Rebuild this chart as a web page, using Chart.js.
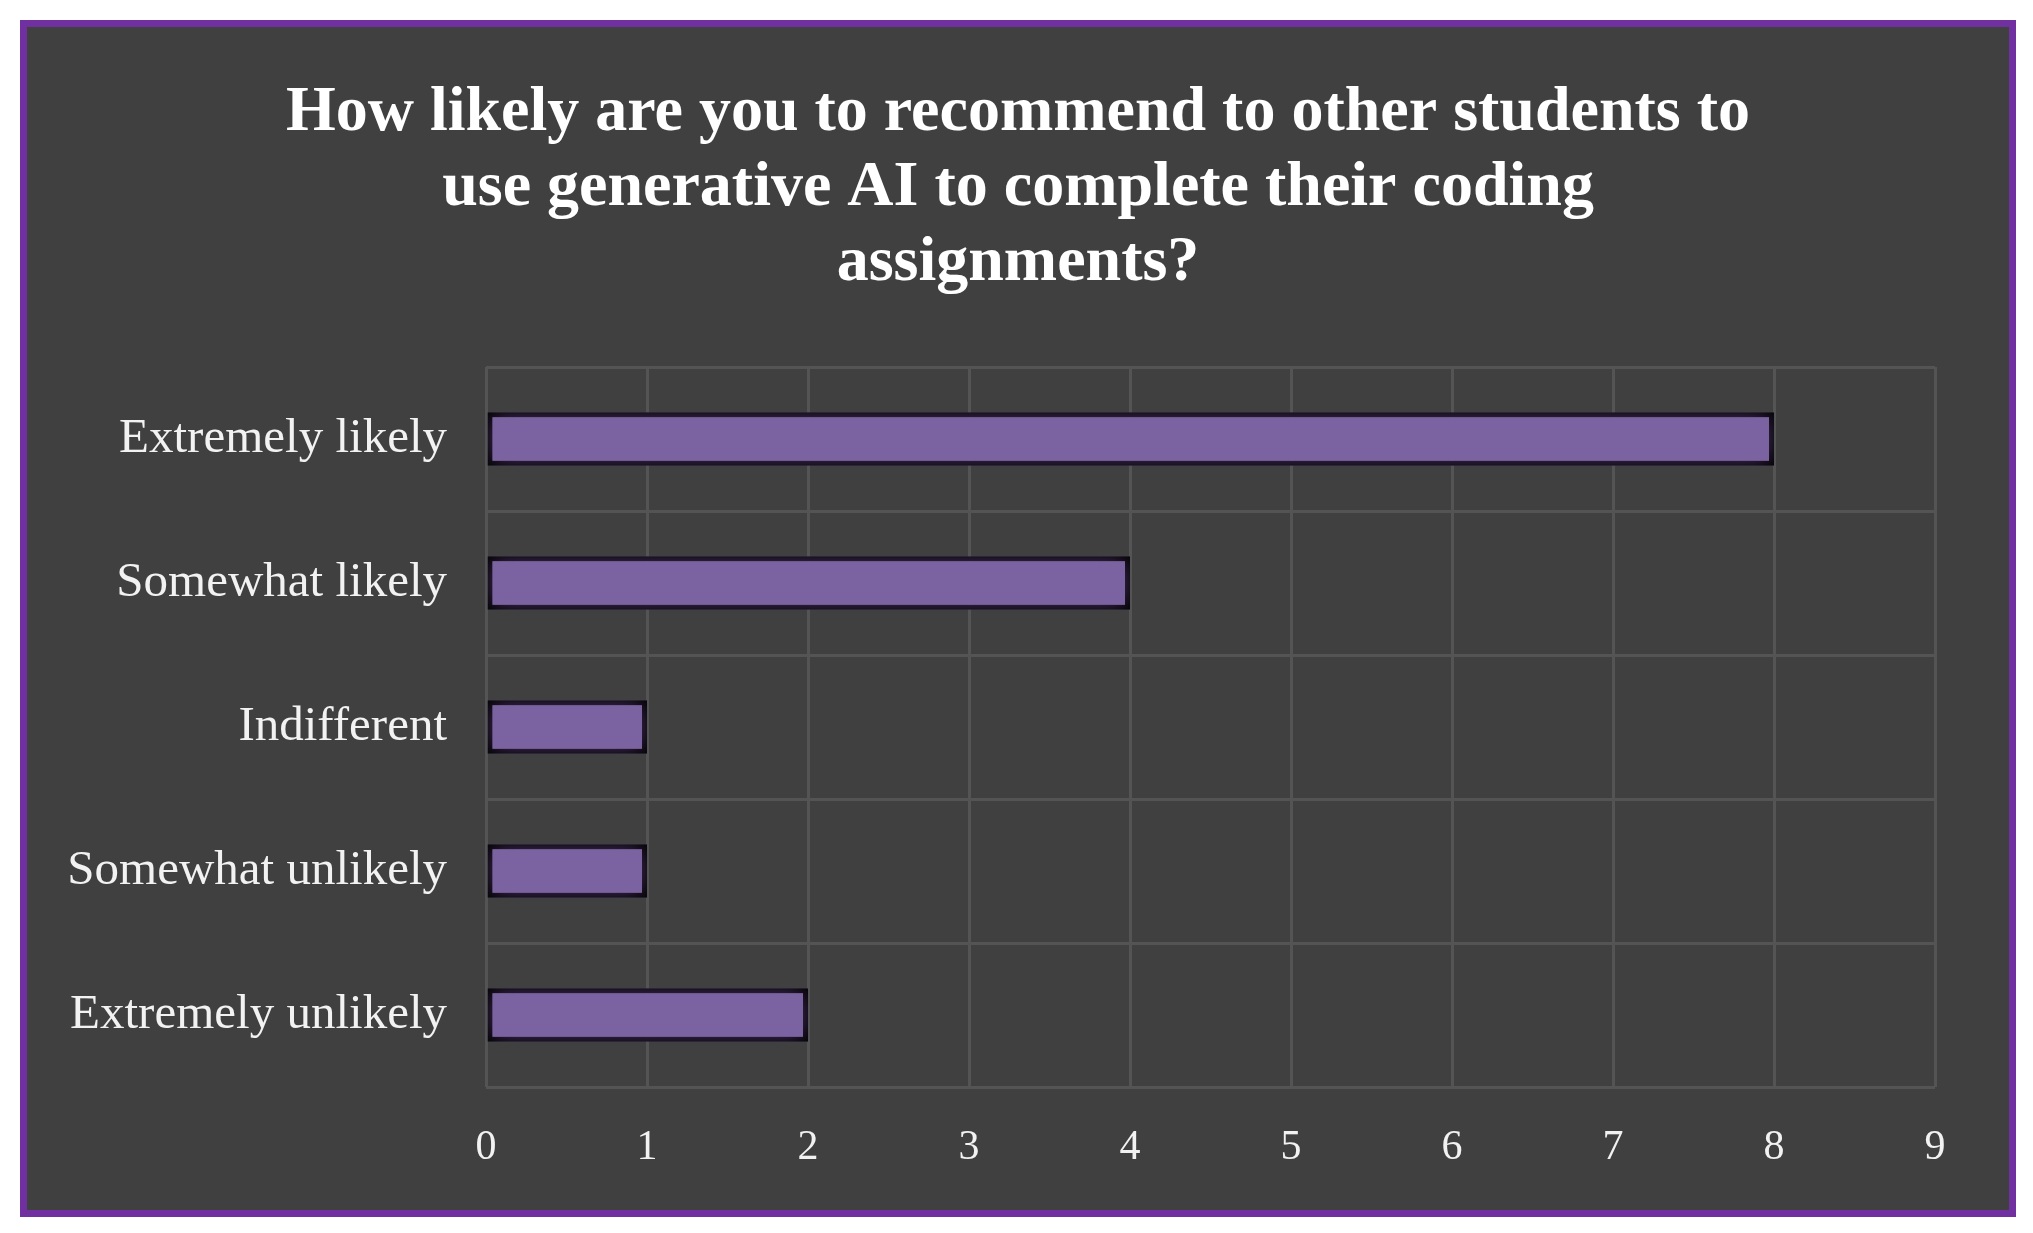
<!DOCTYPE html>
<html><head><meta charset="utf-8">
<script src="https://cdn.jsdelivr.net/npm/chart.js@4"></script>
<style>html,body{margin:0;padding:0;background:#fff;overflow:hidden}#c{display:block}</style>
</head><body>
<canvas id="c" width="2033" height="1233" style="width:2033px;height:1233px"></canvas>
<script>
const categories = ["Extremely likely","Somewhat likely","Indifferent","Somewhat unlikely","Extremely unlikely"];
const counts = [8,4,1,1,2];
const xTicks = [0,1,2,3,4,5,6,7,8,9];
const titleLines = ["How likely are you to recommend to other students to","use generative AI to complete their coding","assignments?"];

const frame = {
  id:'frame',
  beforeDraw(chart){
    const c=chart.ctx;
    c.save();
    c.fillStyle='#fff';c.fillRect(0,0,2033,1233);
    c.fillStyle='#7030A0';c.fillRect(20,20,1996,1197);
    c.fillStyle='#404040';c.fillRect(27,27,1982,1183);
    c.fillStyle='#ffffff';c.font='bold 64px "Liberation Serif"';
    c.textAlign='center';c.textBaseline='middle';
    titleLines.forEach((t,i)=>c.fillText(t,1018,113+i*75));
    c.restore();
  }
};
const glow = {
  id:'glow',
  beforeDatasetsDraw(chart){const c=chart.ctx;c.save();c.shadowColor='rgba(140,100,190,0.55)';c.shadowBlur=22;},
  afterDatasetsDraw(chart){chart.ctx.restore();}
};
new Chart(document.getElementById('c'),{
  type:'bar',
  data:{labels:categories,datasets:[{data:counts,backgroundColor:'#7B62A0',borderColor:'#000',borderWidth:5,borderSkipped:false,barPercentage:0.37,categoryPercentage:1}]},
  options:{
    indexAxis:'y',responsive:false,animation:false,devicePixelRatio:1,
    layout:{padding:{left:0,right:98,top:367,bottom:0}},
    plugins:{legend:{display:false},tooltip:{enabled:false},title:{display:false}},
    scales:{
      x:{min:0,max:9,afterBuildTicks(s){s.ticks=xTicks.map(v=>({value:v}));},
        afterFit(s){s.height=146;},
        ticks:{color:'#f2f2f2',padding:36,font:{family:'Liberation Serif',size:42}},
        grid:{color:'#545454',lineWidth:3,drawTicks:false},border:{display:false}},
      y:{afterFit(s){s.width=486;},
        ticks:{color:'#f2f2f2',padding:39,font:{family:'Liberation Serif',size:49}},
        grid:{color:'#545454',lineWidth:3,drawTicks:false},border:{display:false}}
    }
  },
  plugins:[frame,glow]
});
</script></body></html>
